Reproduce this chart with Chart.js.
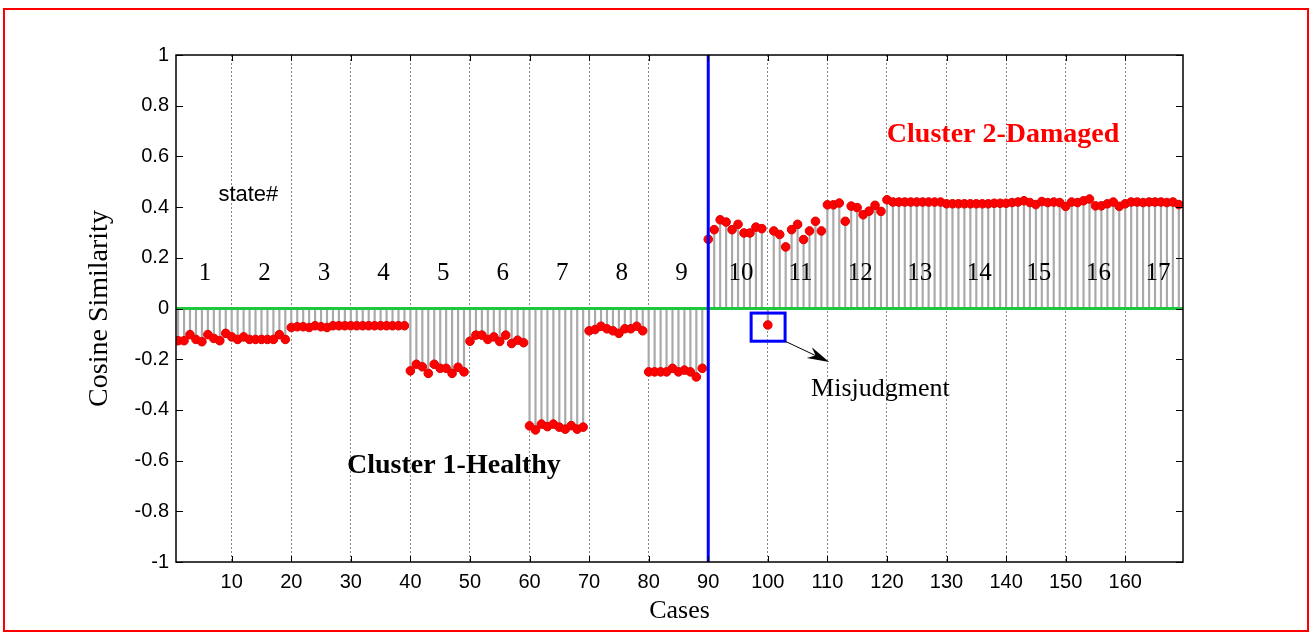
<!DOCTYPE html>
<html>
<head>
<meta charset="utf-8">
<script src="https://cdn.jsdelivr.net/npm/chart.js@4.4.1/dist/chart.umd.min.js"></script>
<style>
    html, body { margin: 0; padding: 0; background: #fff; }
    #wrap { width: 1310px; height: 632px; position: relative; }
</style>
</head>
<body>
<div id="wrap"><canvas id="stemChart"></canvas></div>
<script>
// Cosine similarity of each case
const stateNames = ['1', '2', '3', '4', '5', '6', '7', '8', '9', '10', '11', '12', '13', '14', '15', '16', '17'];

// cases 1 - 89 (states 1-9)
const healthyValues = [
    -0.127, -0.127, -0.103, -0.122, -0.131, -0.103, -0.118, -0.127, -0.098,
    -0.112, -0.122, -0.112, -0.122, -0.122, -0.122, -0.122, -0.122, -0.103, -0.122,
    -0.075, -0.072, -0.072, -0.075, -0.068, -0.072, -0.075, -0.068, -0.068, -0.068,
    -0.068, -0.068, -0.068, -0.068, -0.068, -0.068, -0.068, -0.068, -0.068, -0.068,
    -0.246, -0.220, -0.230, -0.256, -0.220, -0.236, -0.236, -0.256, -0.232, -0.250,
    -0.129, -0.105, -0.105, -0.122, -0.112, -0.130, -0.105, -0.138, -0.125, -0.135,
    -0.463, -0.479, -0.456, -0.466, -0.456, -0.468, -0.476, -0.462, -0.476, -0.468,
    -0.088, -0.083, -0.070, -0.080, -0.088, -0.098, -0.080, -0.080, -0.070, -0.088,
    -0.250, -0.250, -0.250, -0.250, -0.236, -0.250, -0.243, -0.250, -0.270, -0.236
];

// cases 90 - 169 (states 10-17), case 100 is the misjudged one
const damagedValues = [
    0.273, 0.311, 0.350, 0.341, 0.311, 0.332, 0.298, 0.298, 0.321, 0.315,
    -0.065, 0.306, 0.292, 0.243, 0.311, 0.332, 0.272, 0.306, 0.344, 0.306,
    0.409, 0.409, 0.416, 0.344, 0.404, 0.398, 0.370, 0.384, 0.407, 0.383,
    0.429, 0.420, 0.420, 0.420, 0.420, 0.420, 0.420, 0.420, 0.420, 0.420,
    0.413, 0.413, 0.413, 0.413, 0.413, 0.413, 0.413, 0.413, 0.415, 0.415,
    0.415, 0.418, 0.420, 0.425, 0.418, 0.410, 0.422, 0.418, 0.420, 0.418,
    0.403, 0.420, 0.418, 0.425, 0.432, 0.405, 0.405, 0.413, 0.420, 0.403,
    0.413, 0.420, 0.420, 0.418, 0.420, 0.420, 0.420, 0.418, 0.420, 0.410
];

const xTicks = [10, 20, 30, 40, 50, 60, 70, 80, 90, 100, 110, 120, 130, 140, 150, 160];
const yTicks = [-1, -0.8, -0.6, -0.4, -0.2, 0, 0.2, 0.4, 0.6, 0.8, 1];

const splitCase = 90;
const misjudgedCase = 100;
const xRange = [0.65, 169.7];
const yRange = [-1, 1];

const serif = '"Liberation Serif", "Times New Roman", serif';
const sans = '"Liberation Sans", Arial, Helvetica, sans-serif';

const points = healthyValues.concat(damagedValues).map((v, i) => ({ x: i + 1, y: v }));

// Text and marks drawn on top of the plot, placed in data units
const notes = [
    { text: 'state#', x: 12.8, y: 0.447, font: '22px ' + sans, color: '#000' },
    { text: 'Cluster 2-Damaged', x: 139.5, y: 0.686, font: 'bold 28px ' + serif, color: '#ff0000' },
    { text: 'Cluster 1-Healthy', x: 47.3, y: -0.621, font: 'bold 28px ' + serif, color: '#000' },
    { text: 'Misjudgment', x: 118.9, y: -0.318, font: '26px ' + serif, color: '#000' }
];
const markBox = { x0: 97.2, x1: 102.9, y0: -0.018, y1: -0.129 };
const arrowTip = { x: 110.3, y: -0.211 };

const decorPlugin = {
    id: 'decor',
    beforeDraw(chart) {
        const ctx = chart.ctx;
        ctx.save();
        ctx.fillStyle = '#fff';
        ctx.fillRect(0, 0, chart.width, chart.height);
        ctx.strokeStyle = '#ff0000';
        ctx.lineWidth = 2;
        ctx.strokeRect(4, 9, chart.width - 6, chart.height - 10);
        ctx.restore();
    },
    afterDatasetsDraw(chart) {
        const ctx = chart.ctx;
        const xs = chart.scales.x, ys = chart.scales.y;
        const a = chart.chartArea;
        ctx.save();

        // box round the axes, with ticks pointing inward
        ctx.strokeStyle = '#000';
        ctx.lineWidth = 1.5;
        ctx.strokeRect(a.left, a.top, a.right - a.left, a.bottom - a.top);
        ctx.lineWidth = 1;
        ctx.beginPath();
        xs.ticks.forEach(t => {
            const px = Math.round(xs.getPixelForValue(t.value)) + 0.5;
            ctx.moveTo(px, a.bottom); ctx.lineTo(px, a.bottom - 6);
            ctx.moveTo(px, a.top); ctx.lineTo(px, a.top + 6);
        });
        ys.ticks.forEach(t => {
            const py = Math.round(ys.getPixelForValue(t.value)) + 0.5;
            ctx.moveTo(a.left, py); ctx.lineTo(a.left + 7, py);
            ctx.moveTo(a.right, py); ctx.lineTo(a.right - 7, py);
        });
        ctx.stroke();

        // state numbers
        ctx.textAlign = 'center';
        ctx.textBaseline = 'middle';
        ctx.fillStyle = '#000';
        ctx.font = '25px ' + serif;
        stateNames.forEach((s, i) => {
            ctx.fillText(s, xs.getPixelForValue(10 * (i + 1) - 4.5), ys.getPixelForValue(0.14));
        });

        notes.forEach(n => {
            ctx.font = n.font;
            ctx.fillStyle = n.color;
            ctx.fillText(n.text, xs.getPixelForValue(n.x), ys.getPixelForValue(n.y));
        });

        // box round the misjudged case and the arrow
        const bx0 = xs.getPixelForValue(markBox.x0), bx1 = xs.getPixelForValue(markBox.x1);
        const by0 = ys.getPixelForValue(markBox.y0), by1 = ys.getPixelForValue(markBox.y1);
        ctx.strokeStyle = '#0000ff';
        ctx.lineWidth = 3;
        ctx.strokeRect(bx0, by0, bx1 - bx0, by1 - by0);

        const tx = xs.getPixelForValue(arrowTip.x), ty = ys.getPixelForValue(arrowTip.y);
        const ang = Math.atan2(ty - by1, tx - bx1);
        const c = Math.cos(ang), s = Math.sin(ang);
        ctx.strokeStyle = '#000';
        ctx.lineWidth = 1;
        ctx.beginPath();
        ctx.moveTo(bx1, by1);
        ctx.lineTo(tx - 10 * c, ty - 10 * s);
        ctx.stroke();
        ctx.fillStyle = '#000';
        ctx.beginPath();
        ctx.moveTo(tx, ty);
        ctx.lineTo(tx - 22 * c + 6 * s, ty - 22 * s - 6 * c);
        ctx.lineTo(tx - 15 * c, ty - 15 * s);
        ctx.lineTo(tx - 22 * c - 6 * s, ty - 22 * s + 6 * c);
        ctx.closePath();
        ctx.fill();

        ctx.restore();
    }
};

const ctx = document.getElementById('stemChart').getContext('2d');
new Chart(ctx, {
    type: 'scatter',
    data: {
        datasets: [
            {
                // stems from zero
                type: 'bar',
                data: points,
                backgroundColor: '#a9a9a9',
                barThickness: 1.5,
                order: 5
            },
            {
                type: 'line',
                data: [{ x: xRange[0], y: 0 }, { x: xRange[1], y: 0 }],
                borderColor: '#1ec83c',
                borderWidth: 3,
                pointRadius: 0,
                order: 4
            },
            {
                type: 'scatter',
                data: points,
                pointRadius: 4.3,
                backgroundColor: '#ff0000',
                borderColor: '#e00000',
                borderWidth: 1,
                order: 2
            },
            {
                type: 'line',
                data: [{ x: splitCase, y: yRange[0] }, { x: splitCase, y: yRange[1] }],
                borderColor: '#0000ff',
                borderWidth: 3,
                pointRadius: 0,
                order: 1
            }
        ]
    },
    options: {
        responsive: true,
        maintainAspectRatio: false,
        animation: false,
        layout: { padding: { top: 55, right: 127, left: 0, bottom: 0 } },
        plugins: {
            legend: { display: false },
            tooltip: { enabled: false }
        },
        scales: {
            x: {
                type: 'linear',
                min: xRange[0],
                max: xRange[1],
                offset: false,
                afterBuildTicks: scale => {
                    scale.ticks = xTicks.map(v => ({ value: v }));
                },
                afterFit: scale => { scale.height = 70; },
                ticks: {
                    autoSkip: false,
                    maxRotation: 0,
                    padding: 8,
                    color: '#000',
                    font: { family: sans, size: 20 }
                },
                grid: {
                    color: '#8a8a8a',
                    lineWidth: 1,
                    drawTicks: false,
                    offset: false
                },
                border: { display: false, dash: [2, 2] },
                title: {
                    display: true,
                    text: 'Cases',
                    color: '#000',
                    font: { family: serif, size: 26 },
                    padding: { top: 0, bottom: 5 }
                }
            },
            y: {
                min: yRange[0],
                max: yRange[1],
                afterBuildTicks: scale => {
                    scale.ticks = yTicks.map(v => ({ value: v }));
                },
                afterFit: scale => { scale.width = 176; },
                ticks: {
                    padding: 7,
                    color: '#000',
                    font: { family: sans, size: 20 },
                    callback: v => String(Math.round(v * 10) / 10)
                },
                grid: { display: false, drawTicks: false },
                border: { display: false },
                title: {
                    display: true,
                    text: 'Cosine Similarity',
                    color: '#000',
                    font: { family: serif, size: 28 },
                    padding: { top: 83, bottom: 0 }
                }
            }
        }
    },
    plugins: [decorPlugin]
});
</script>
</body>
</html>
